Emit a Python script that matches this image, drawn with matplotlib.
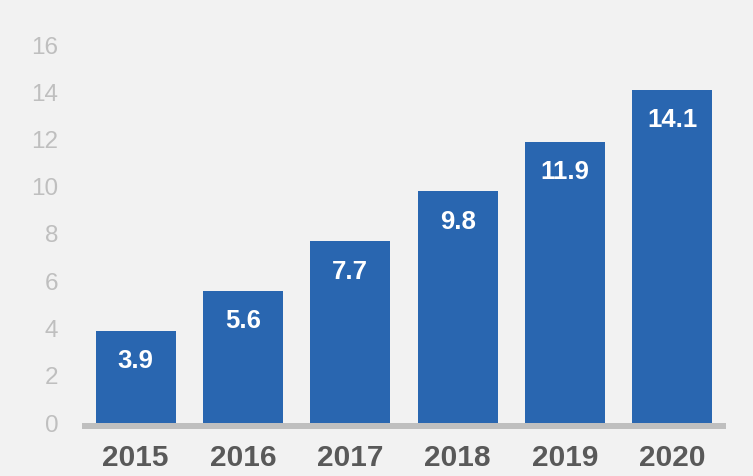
import matplotlib
matplotlib.use("Agg")
import matplotlib.pyplot as plt

years = ["2015", "2016", "2017", "2018", "2019", "2020"]
values = [3.9, 5.6, 7.7, 9.8, 11.9, 14.1]
yticks = [0, 2, 4, 6, 8, 10, 12, 14, 16]

plt.rcParams['font.family'] = ['Liberation Sans', 'DejaVu Sans']

fig = plt.figure(figsize=(7.53, 4.76), dpi=100, facecolor='#f2f2f2')
ax = fig.add_axes([82/753, 53/476, 644/753, 378/476])
ax.set_facecolor('#f2f2f2')

x = list(range(len(years)))
bars = ax.bar(x, values, width=0.745, color='#2966b0', zorder=2)

for xi, v in zip(x, values):
    ax.annotate(f"{v}", (xi, v), xytext=(0, -22), textcoords='offset points',
                ha='center', va='center', color='white', fontsize=18.5, fontweight='bold', zorder=3)

ax.set_xlim(-0.5, len(years) - 0.5)
ax.set_ylim(0, 16)
ax.set_yticks(yticks)
ax.set_yticklabels([str(t) for t in yticks])
ax.set_xticks(x)
ax.set_xticklabels(years)

for s in ['top', 'right', 'left']:
    ax.spines[s].set_visible(False)
ax.spines['bottom'].set_color('#bfbfbf')
ax.spines['bottom'].set_linewidth(4.3)
ax.spines['bottom'].set_capstyle('butt')
ax.spines['bottom'].set_position(('outward', 2.2))
ax.spines['bottom'].set_zorder(4)

ax.tick_params(axis='y', length=0, pad=17, labelsize=17.5, labelcolor='#bfbfbf')
ax.tick_params(axis='x', length=0, pad=13, labelsize=21.5, labelcolor='#595959')
for lbl in ax.get_xticklabels():
    lbl.set_fontweight('bold')

fig.savefig('out.png', dpi=100, facecolor=fig.get_facecolor())
